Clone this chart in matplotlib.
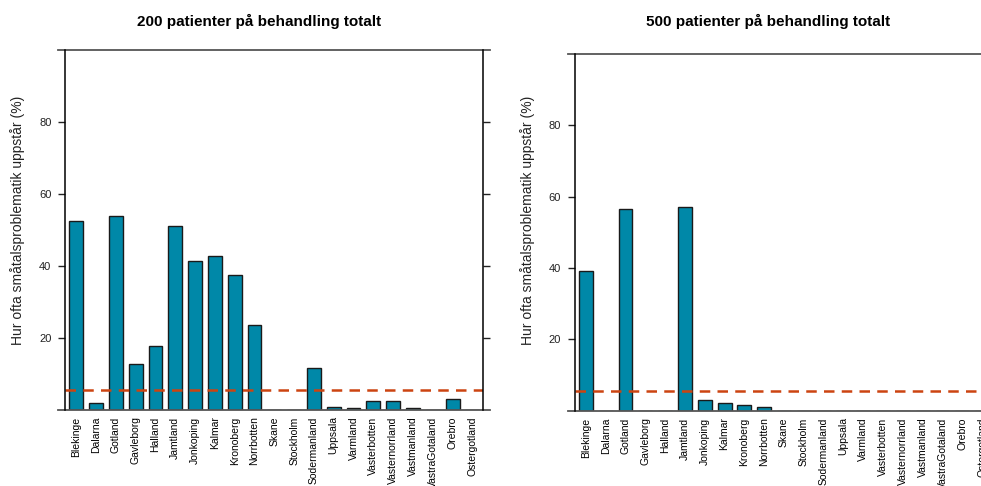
import numpy as np
import matplotlib.pyplot as plt

plt.rcParams['font.family'] = ['Liberation Sans', 'DejaVu Sans']

lan = ['Blekinge', 'Dalarna', 'Gotland', 'Gavleborg', 'Halland', 'Jamtland',
       'Jonkoping', 'Kalmar', 'Kronoberg', 'Norrbotten', 'Skane', 'Stockholm',
       'Sodermanland', 'Uppsala', 'Varmland', 'Vasterbotten', 'Vasternorrland',
       'Vastmanland', 'VastraGotaland', 'Orebro', 'Ostergotland']

# andel (%) per lan, 200 resp. 500 patienter
andel_200 = [52.5, 1.7, 53.8, 12.6, 17.6, 51.1, 41.2, 42.7, 37.4, 23.5, 0, 0,
             11.5, 0.6, 0.5, 2.5, 2.5, 0.4, 0, 2.9, 0]
andel_500 = [39.2, 0, 56.4, 0, 0, 57.2, 2.9, 2.0, 1.5, 0.9, 0, 0,
             0, 0, 0, 0, 0, 0, 0, 0, 0]
grans_200 = 5.3
grans_500 = 5.4

titlar = ['200 patienter på behandling totalt', '500 patienter på behandling totalt']
ylab = 'Hur ofta småtalsproblematik uppstår (%)'

bar_col = '#0088a8'
line_col = '#cc4411'

fig = plt.figure(figsize=(9.81, 4.86), dpi=100)
W, H = 981, 486


def panel(rect, values, ref, title, title_x, ylab_x):
    ax = fig.add_axes(rect)
    x = np.arange(len(lan))
    ax.bar(x, values, width=0.7, color=bar_col, edgecolor='#1a1a1a', linewidth=1.0)
    ax.axhline(ref, color=line_col, linewidth=1.8, linestyle=(0, (4.2, 2.9)))
    ax.set_xlim(-0.55, len(lan) - 0.45)
    ax.set_ylim(0, 100)
    ax.set_yticks([20, 40, 60, 80])
    ax.tick_params(axis='y', left=True, right=True, direction='out', length=5,
                   width=1, labelsize=8, pad=5, colors='#222222')
    ax.set_xticks(x)
    ax.set_xticklabels(lan, rotation=90, fontsize=7.5)
    ax.tick_params(axis='x', length=0, pad=5)
    for s in ['top', 'bottom']:
        ax.spines[s].set_visible(False)
    for s in ['left', 'right']:
        ax.spines[s].set_color('black')
        ax.spines[s].set_linewidth(1.1)
    # horisontella linjer som sticker ut lite utanfor rutan
    ext = 7 / (rect[2] * W)
    for yv in (0, 1):
        ax.plot([-ext, 1 + ext], [yv, yv], transform=ax.transAxes,
                color='#555555', linewidth=1.3, clip_on=False)
    fig.text(title_x / W, 1 - 21 / H, title, ha='center', va='center',
             fontsize=11, fontweight='bold')
    fig.text(ylab_x / W, 1 - 220 / H, ylab, rotation=90, ha='center',
             va='center', fontsize=10, color='#222222')
    return ax


panel([65.3 / W, 1 - 409.5 / H, 418 / W, 359.5 / H], andel_200, grans_200,
      titlar[0], 259, 18)
panel([575 / W, 1 - 410.5 / H, 418 / W, 356.5 / H], andel_500, grans_500,
      titlar[1], 768, 528)

fig.savefig('out.png', dpi=100)
